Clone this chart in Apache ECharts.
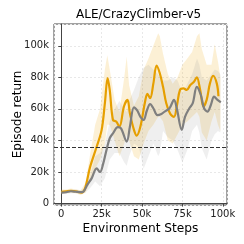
<!DOCTYPE html>
<html><head><meta charset="utf-8">
<script src="https://cdn.jsdelivr.net/npm/echarts@6/dist/echarts.min.js"></script>
<style>html,body{margin:0;padding:0;background:#fff}#c{width:244px;height:244px}</style>
</head><body><div id="c"></div>
<script>
const title = 'ALE/CrazyClimber-v5';
const xLabel = 'Environment Steps';
const yLabel = 'Episode return';
const baseline = 36000;

const orangeLine = [[0,7500],[3000,7800],[6000,8000],[9000,7800],[12500,6900],[14700,9600],[17800,23000],[21900,36000],[25000,46700],[27000,63600],[28700,79500],[30000,72000],[32000,53000],[34000,52000],[36000,48800],[38800,61500],[41000,65700],[42500,57000],[45000,46700],[46700,43000],[49000,48800],[51900,64700],[53300,69500],[55000,66800],[57000,76000],[59000,87500],[61000,82600],[63000,74000],[65000,63600],[67400,57000],[69800,55000],[71500,61500],[73500,72000],[75600,73000],[77700,72000],[79800,75000],[82000,77000],[83900,80000],[86000,72000],[88000,61500],[90000,65700],[92000,76000],[94000,81000],[96300,76000],[97300,68000]];

const grayLine = [[0,6900],[3000,7200],[6000,7800],[9000,7500],[11600,7200],[13600,7500],[16000,11700],[18800,16000],[21900,22300],[24000,20000],[26000,25500],[28000,34000],[30000,41400],[32000,44500],[35000,48400],[37000,47700],[40500,39300],[42500,48800],[45000,61000],[47000,59000],[49000,55000],[51000,53000],[53000,59000],[55000,63000],[57000,60400],[59500,56000],[62000,56800],[64000,58300],[67000,60400],[69800,65700],[71500,60400],[74600,46700],[76600,55000],[79300,60400],[81400,63600],[83900,74000],[86400,68800],[88400,60400],[90500,58300],[92600,62500],[94600,67800],[96700,65700],[98800,64200]];

const bandX = [0,3000,6000,9000,12000,15000,18000,21000,24000,27000,28500,30000,33000,36000,39000,40500,42000,45000,48000,51000,54000,57000,60000,61000,63000,66000,69000,72000,75000,78000,81000,84000,85500,87000,90000,93000,95000,97000,98500];
const orangeHi = [9000,9000,9500,9000,8500,13000,32000,50000,60000,85000,94000,85000,66000,58000,80000,93000,75000,62000,68000,85000,92000,100000,108000,106000,95000,82000,76000,80000,88000,92000,96000,106000,108000,98000,88000,88000,101000,90000,80000];
const orangeLo = [6000,6500,7000,6500,5500,7000,14000,22000,28000,38000,50000,50000,40000,30000,38000,44000,40000,30000,28000,38000,46000,50000,55000,55000,52000,40000,38000,44000,50000,52000,55000,58000,55000,45000,40000,52000,58000,50000,46000];
const grayHi = [8500,8500,9000,9000,8500,10000,18000,30000,32000,38000,45000,52000,60000,65000,60000,58000,65000,72000,80000,86000,88000,85000,82000,80000,78000,78000,80000,78000,70000,76000,82000,92000,88000,80000,78000,82000,85000,84000,82000];
const grayLo = [6000,6000,6500,6500,6000,7000,10000,14000,11000,16000,22000,28000,32000,32000,26000,24000,30000,38000,36000,22000,30000,38000,30000,32000,46000,42000,40000,34000,26000,34000,46000,50000,45000,35000,28000,40000,44000,46000,45000];

const xTicks = [0,25000,50000,75000,100000];
const yTicks = [0,20000,40000,60000,80000,100000];

function kfmt(v){ return v===0 ? '0' : (v/1000)+'k'; }
function bandSeries(lo, hi, color, z){
  return {
    type:'custom', silent:true, z:z,
    data: bandX.map((x,i)=>[x, hi[i], lo[i]]),
    encode:{x:0, y:[1,2]},
    renderItem:function(params, api){
      if (params.dataIndex !== 0) return null;
      const top = bandX.map((x,i)=>api.coord([x, hi[i]]));
      const bot = bandX.map((x,i)=>api.coord([x, lo[i]])).reverse();
      return {type:'polygon', shape:{points: top.concat(bot)}, style:{fill:color, stroke:null}};
    }
  };
}
const font = 'DejaVu Sans';
const chart = echarts.init(document.getElementById('c'), null, {renderer:'canvas'});
chart.setOption({
  animation:false,
  title:{text:title, left:76, top:9, padding:0, textStyle:{fontFamily:font, fontSize:12, fontWeight:'normal', color:'#000'}},
  grid:{left:54, right:17, top:24, bottom:39, show:true, borderColor:'#444', borderWidth:1, backgroundColor:'transparent', outerBoundsMode:'none', containLabel:false},
  xAxis:{type:'value', min:-4500, max:102600, minInterval:25000, maxInterval:25000,
    name:xLabel, nameLocation:'middle', nameGap:18, nameMoveOverlap:false, nameTextStyle:{fontFamily:font, fontSize:12.2, color:'#000'},
    axisLine:{show:true, lineStyle:{color:'#444'}}, axisTick:{show:true, length:3, lineStyle:{color:'#444'}},
    axisLabel:{fontFamily:font, fontSize:10, color:'#222', margin:4, showMinLabel:false, showMaxLabel:false,
      formatter:v=>xTicks.includes(v)?kfmt(v):''},
    splitLine:{show:true, lineStyle:{color:'#e8e8e8', type:[2,2]}}},
  yAxis:{type:'value', min:-900, max:113800, minInterval:20000, maxInterval:20000,
    name:yLabel, nameLocation:'middle', nameGap:30, nameMoveOverlap:false, nameTextStyle:{fontFamily:font, fontSize:12, color:'#000'},
    axisLine:{show:true, lineStyle:{color:'#444'}}, axisTick:{show:true, length:3, lineStyle:{color:'#444'}},
    axisLabel:{fontFamily:font, fontSize:10, color:'#222', margin:5, showMinLabel:false, showMaxLabel:false,
      formatter:v=>yTicks.includes(v)?kfmt(v):''},
    splitLine:{show:true, lineStyle:{color:'#e8e8e8', type:[2,2]}}},
  series:[
    bandSeries(orangeLo, orangeHi, 'rgba(240,170,20,0.18)', 1),
    bandSeries(grayLo, grayHi, 'rgba(140,140,140,0.14)', 1),
    {type:'line', data:orangeLine, symbol:'none', smooth:0.35, lineStyle:{color:'#E69F00', width:2.2}, z:3,
      markLine:{silent:true, symbol:'none', label:{show:false}, lineStyle:{color:'#333', type:[4,2], width:1.2}, data:[{yAxis:baseline}]}},
    {type:'line', data:grayLine, symbol:'none', smooth:0.35, lineStyle:{color:'#7f7f7f', width:2.2}, z:4}
  ]
});
</script></body></html>
